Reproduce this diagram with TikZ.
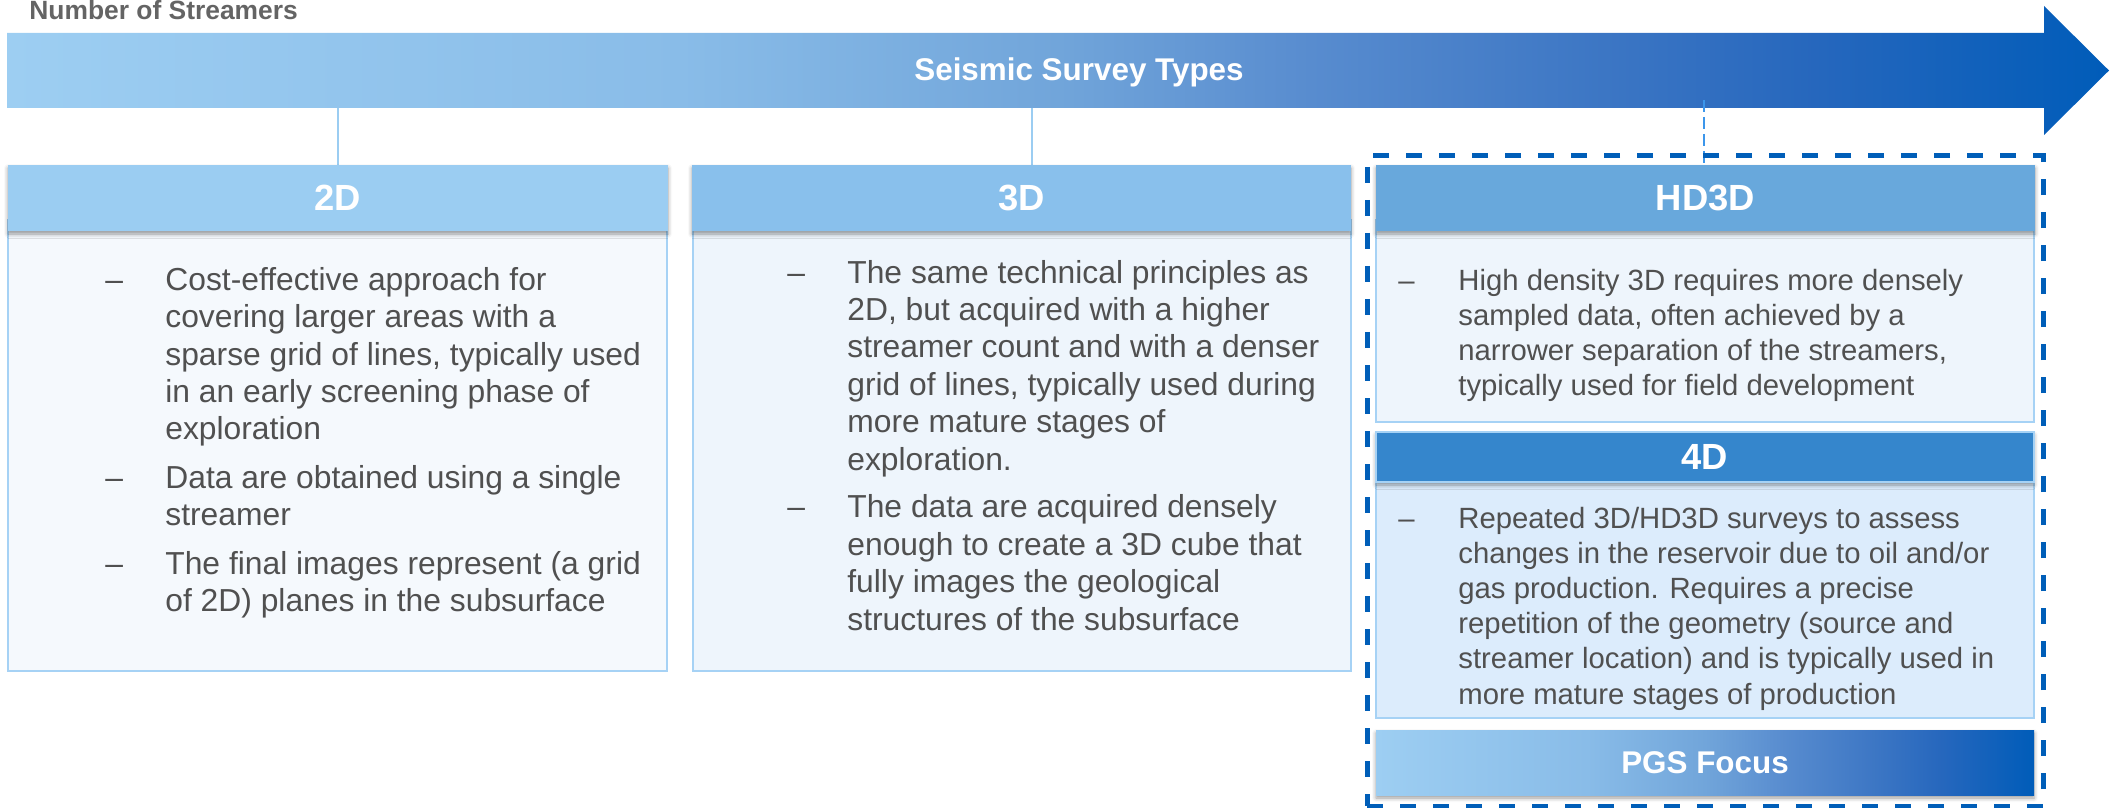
\documentclass[tikz,border=0pt]{standalone}
\usepackage{fontspec}
\setmainfont{Liberation Sans}
\usetikzlibrary{fit,shadows.blur}
\definecolor{rampA}{RGB}{157,206,242}
\definecolor{rampB}{RGB}{137,188,232}
\definecolor{rampC}{RGB}{113,165,218}
\definecolor{rampD}{RGB}{88,140,207}
\definecolor{rampE}{RGB}{60,118,196}
\definecolor{rampF}{RGB}{38,103,189}
\definecolor{rampG}{RGB}{0,92,185}
\definecolor{hTwo}{RGB}{155,205,242}
\definecolor{hThree}{RGB}{137,192,236}
\definecolor{hHD}{RGB}{104,168,220}
\definecolor{hFour}{RGB}{53,134,204}
\definecolor{bTwo}{RGB}{245,249,253}
\definecolor{bThree}{RGB}{238,245,252}
\definecolor{bFour}{RGB}{220,236,252}
\definecolor{bordr}{RGB}{166,210,245}
\definecolor{focusblue}{RGB}{0,94,184}
\definecolor{dashconn}{RGB}{60,150,235}
\definecolor{txt}{RGB}{80,80,80}
\definecolor{lbl}{RGB}{100,100,100}
\pgfdeclarehorizontalshading{blueramp}{100bp}{color(0bp)=(rampA); color(25bp)=(rampA); color(41bp)=(rampB); color(50bp)=(rampC); color(56bp)=(rampD); color(63bp)=(rampE); color(68bp)=(rampF); color(75bp)=(rampG); color(100bp)=(rampG)}
\newcommand\bodyA{\fontsize{15.9pt}{18.75pt}\selectfont}
\newcommand\bodyB{\fontsize{14.65pt}{17.6pt}\selectfont}
\tikzset{
  bodybox/.style={draw=bordr, line width=1pt, inner sep=0pt},
  headbox/.style={inner sep=0pt,
    blur shadow={shadow xshift=0pt, shadow yshift=-1.5pt, shadow blur radius=2pt, shadow opacity=40}},
  hlabel/.style={inner sep=0pt, text=white, font=\bfseries\fontsize{18.2pt}{20pt}\selectfont},
  txtnode/.style={anchor=base west, inner sep=0pt, text=txt},
  conn/.style={draw=hTwo, line width=1pt},
}
\begin{document}
\begin{tikzpicture}[x=0.5pt, y=-0.5pt]
\useasboundingbox (0,0) rectangle (2117,808);
% label
\node[anchor=base west, inner sep=0pt, text=lbl, font=\bfseries\fontsize{13.2pt}{15pt}\selectfont] (nstream) at (29,20) {Number of Streamers};
% big arrow
\shade[shading=blueramp] (7,33) -- (2044,33) -- (2044,6) -- (2109,70.5) -- (2044,135) -- (2044,108) -- (7,108) -- cycle;
\node[inner sep=0pt, text=white, font=\bfseries\fontsize{15.7pt}{18pt}\selectfont] (title) at (1079,72) {Seismic Survey Types};
\coordinate (c2d) at (338,108);
\coordinate (c3d) at (1032,108);
\coordinate (chd) at (1704,100);
% connectors
\draw[conn] (c2d) -- (c2d |- 0,165);
\draw[conn] (c3d) -- (c3d |- 0,165);
\draw[dashconn, line width=1pt, dash pattern=on 6pt off 2.5pt] (chd) -- (chd |- 0,165);
% bodies
\node[bodybox, fill=bTwo, fit={(8,220) (667,671)}] (b2d) {};
\node[bodybox, fill=bThree, fit={(693,220) (1351,671)}] (b3d) {};
\node[bodybox, fill=bThree, fit={(1376,220) (2034,422)}] (bhd) {};
\node[bodybox, fill=bFour, fit={(1376,470) (2034,718)}] (b4d) {};
% headers
\node[headbox, fill=hTwo, fit={(8,165) (668,231)}] (h2d) {};
\node[headbox, fill=hThree, fit={(692,165) (1351,231)}] (h3d) {};
\node[headbox, fill=hHD, fit={(1376,165) (2035,231)}] (hhd) {};
\node[headbox, fill=hFour, draw=bordr, line width=1pt, fit={(1376,432) (2034,482)}] (h4d) {};
\node[headbox, shading=blueramp, fit={(1376,730) (2034,795)}] (pgs) {};
\node[hlabel] (l2d) at (h2d.center) {2D};
\node[hlabel] (l3d) at (h3d.center) {3D};
\node[hlabel] (lhd) at (hhd.center) {HD3D};
\node[hlabel] (l4d) at (h4d.center) {4D};
\node[hlabel, font=\bfseries\fontsize{15.7pt}{18pt}\selectfont] (lpgs) at (pgs.center) {PGS Focus};
% focus frame
\node[draw=focusblue, line width=2.5pt, dash pattern=on 8pt off 8.5pt, inner sep=0pt, fit={(1367,156) (2043,806)}] (focus) {};
% texts
\node[txtnode] (t2d) at (105,290) {\bodyA\begin{tabular}[t]{@{}p{30pt}@{}l@{}}
– & Cost-effective approach for\\
  & covering larger areas with a\\
  & sparse grid of lines, typically used\\
  & in an early screening phase of\\
  & exploration\\[5.5pt]
– & Data are obtained using a single\\
  & streamer\\[5.5pt]
– & The final images represent (a grid\\
  & of 2D) planes in the subsurface
\end{tabular}};
\node[txtnode] (t3d) at (787,283) {\bodyA\begin{tabular}[t]{@{}p{30pt}@{}l@{}}
– & The same technical principles as\\
  & 2D, but acquired with a higher\\
  & streamer count and with a denser\\
  & grid of lines, typically used during\\
  & more mature stages of\\
  & exploration.\\[5pt]
– & The data are acquired densely\\
  & enough to create a 3D cube that\\
  & fully images the geological\\
  & structures of the subsurface
\end{tabular}};
\node[txtnode] (thd) at (1398,290) {\bodyB\begin{tabular}[t]{@{}p{30pt}@{}l@{}}
– & High density 3D requires more densely\\
  & sampled data, often achieved by a\\
  & narrower separation of the streamers,\\
  & typically used for field development
\end{tabular}};
\node[txtnode] (t4d) at (1398,528) {\bodyB\begin{tabular}[t]{@{}p{30pt}@{}l@{}}
– & Repeated 3D/HD3D surveys to assess\\
  & changes in the reservoir due to oil and/or\\
  & gas production. Requires a precise\\
  & repetition of the geometry (source and\\
  & streamer location) and is typically used in\\
  & more mature stages of production
\end{tabular}};
\end{tikzpicture}
\end{document}
